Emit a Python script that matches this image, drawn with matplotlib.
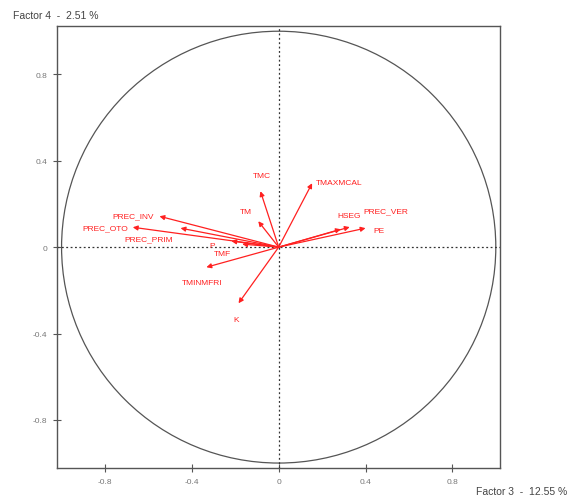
import numpy as np
import matplotlib.pyplot as plt

plt.rcParams['font.family'] = ['Liberation Sans', 'DejaVu Sans']

# variable loadings (Factor 3, Factor 4)
names = ['PREC_INV', 'PREC_OTO', 'PREC_PRIM', 'P', 'TMF', 'TMINMFRI', 'K',
         'TMC', 'TM', 'TMAXMCAL', 'HSEG', 'PREC_VER', 'PE']
f3 = [-0.549, -0.672, -0.452, -0.218, -0.168, -0.333, -0.185,
      -0.084, -0.094, 0.154, 0.286, 0.327, 0.400]
f4 = [0.143, 0.092, 0.088, 0.028, 0.014, -0.093, -0.260,
      0.259, 0.120, 0.296, 0.083, 0.093, 0.088]

# label offsets in points (dx, dy)
label_off = [(-19, 0), (-20, 0), (-23, -8), (-14, -3), (-14, -6.5), (-3, -11), (-2, -11.5),
             (1, 11), (-9, 7), (19.5, 0.7), (6, 10), (26, 11.5), (10, -2)]

xticks = [-0.8, -0.4, 0, 0.4, 0.8]
yticks = [-0.8, -0.4, 0, 0.4, 0.8]

fig = plt.figure(figsize=(5.77, 5.02), dpi=100)
ax = fig.add_axes([0.0988, 0.0657, 0.768, 0.880])
ax.set_xlim(-1.021, 1.02)
ax.set_ylim(-1.023, 1.023)

circle = plt.Circle((0, 0), 1.0, fill=False, color='#555555', lw=0.9)
ax.add_patch(circle)
ax.axhline(0, color='#333333', ls=(0, (1.5, 2)), lw=0.9)
ax.axvline(0, color='#333333', ls=(0, (1.5, 2)), lw=0.9)

red = '#ff2020'
for name, x, y, off in zip(names, f3, f4, label_off):
    ax.annotate('', xy=(x, y), xytext=(0, 0),
                arrowprops=dict(arrowstyle='-|>', color=red, lw=0.9,
                                mutation_scale=7, shrinkA=0, shrinkB=0))
    ax.annotate(name, xy=(x, y), xytext=off, textcoords='offset points',
                ha='center', va='center', color=red, fontsize=6)

ax.set_xticks(xticks)
ax.set_yticks(yticks)
ax.set_xticklabels(['-0.8', '-0.4', '0', '0.4', '0.8'])
ax.set_yticklabels(['-0.8', '-0.4', '0', '0.4', '0.8'])
ax.tick_params(direction='inout', length=6, width=0.8, colors='#555555',
               labelsize=6, labelcolor='#777777', pad=4)
for s in ax.spines.values():
    s.set_color('#555555')
    s.set_linewidth(1.0)

fig.text(0.022, 0.968, 'Factor 4  -  2.51 %', fontsize=7.5, color='#444444', va='center')
fig.text(0.983, 0.02, 'Factor 3  -  12.55 %', fontsize=7.5, color='#444444',
         va='center', ha='right')

fig.savefig('out.png', dpi=100)
